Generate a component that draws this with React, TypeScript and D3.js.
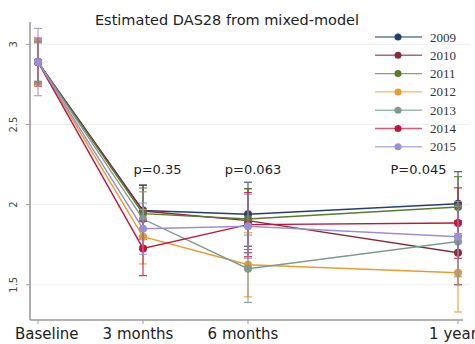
import * as d3 from 'd3';

const months = [0, 3, 6, 12];
const timeLabels = ['Baseline', '3 months', '6 months', '1 year'];
const years = ['2009', '2010', '2011', '2012', '2013', '2014', '2015'];
const colors = ['#25406f', '#862b3c', '#5a7b2c', '#e89c2a', '#7e9a8e', '#c1163b', '#9990d4'];

// estimated DAS28 per year cohort
const das2009 = [2.89, 1.963, 1.94, 2.006];
const das2010 = [2.89, 1.96, 1.90, 1.70];
const das2011 = [2.89, 1.944, 1.91, 1.985];
const das2012 = [2.89, 1.80, 1.625, 1.575];
const das2013 = [2.89, 1.91, 1.60, 1.77];
const das2014 = [2.89, 1.727, 1.875, 1.885];
const das2015 = [2.89, 1.85, 1.865, 1.80];
const series = [das2009, das2010, das2011, das2012, das2013, das2014, das2015];

// CI half widths
const ci2009 = [0.13, 0.16, 0.2, 0.2];
const ci2010 = [0.14, 0.16, 0.2, 0.2];
const ci2011 = [0.12, 0.16, 0.19, 0.19];
const ci2012 = [0.14, 0.17, 0.2, 0.245];
const ci2013 = [0.13, 0.17, 0.21, 0.22];
const ci2014 = [0.15, 0.17, 0.2, 0.22];
const ci2015 = [0.21, 0.16, 0.2, 0.22];
const cis = [ci2009, ci2010, ci2011, ci2012, ci2013, ci2014, ci2015];

const pLabels = ['p=0.35', 'p=0.063', 'P=0.045'];
const yTicks = [1.5, 2, 2.5, 3];

export default function App() {
  const width = 475;
  const height = 344;
  const x = d3.scaleLinear().domain([0, 12]).range([38, 458]);
  const y = d3.scaleLinear().domain([1.28, 3.14]).range([320, 22]);
  const line = d3.line<number>().x((d, i) => x(months[i])).y((d) => y(d));
  const sans = 'DejaVu Sans, sans-serif';

  return (
    <svg width={width} height={height} style={{ position: 'absolute', left: 0, top: 0, background: '#fff' }}>
      {/* grid */}
      {yTicks.map((t) => (
        <line key={'g' + t} x1={31} x2={470} y1={y(t)} y2={y(t)} stroke="#eef1f1" strokeWidth={1} />
      ))}
      {/* axes */}
      <line x1={30} x2={30} y1={22} y2={320} stroke="#9a9a9a" strokeWidth={1.6} />
      <line x1={30} x2={463} y1={320} y2={320} stroke="#9a9a9a" strokeWidth={1.6} />
      {yTicks.map((t) => (
        <g key={'t' + t}>
          <line x1={26} x2={30} y1={y(t)} y2={y(t)} stroke="#9a9a9a" />
          <text transform={`translate(17,${y(t)}) rotate(-90)`} textAnchor="middle" fontFamily={sans} fontSize={10} fill="#444">
            {t}
          </text>
        </g>
      ))}
      {months.map((m, i) => (
        <g key={'x' + m}>
          <line x1={x(m)} x2={x(m)} y1={320} y2={324} stroke="#9a9a9a" />
          <text
            x={i === 0 ? 15 : x(m) - 5}
            y={339}
            textAnchor={i === 0 ? 'start' : 'middle'}
            fontFamily={sans}
            fontSize={15}
            fill="#222"
          >
            {timeLabels[i]}
          </text>
        </g>
      ))}
      {/* title */}
      <text x={227} y={25} textAnchor="middle" fontFamily={sans} fontSize={14.5} fill="#222">
        Estimated DAS28 from mixed-model
      </text>
      {/* series */}
      {series.map((s, si) => (
        <g key={years[si]}>
          {s.map((v, i) => {
            const lo = y(v - cis[si][i]);
            const hi = y(v + cis[si][i]);
            const cx = x(months[i]);
            return (
              <g key={i} stroke={colors[si]} strokeWidth={1.2} opacity={0.85}>
                <line x1={cx} x2={cx} y1={lo} y2={hi} />
                <line x1={cx - 4} x2={cx + 4} y1={lo} y2={lo} />
                <line x1={cx - 4} x2={cx + 4} y1={hi} y2={hi} />
              </g>
            );
          })}
          <path d={line(s) || ''} fill="none" stroke={colors[si]} strokeWidth={1.4} />
          {s.map((v, i) => (
            <circle key={'c' + i} cx={x(months[i])} cy={y(v)} r={4} fill={colors[si]} />
          ))}
        </g>
      ))}
      {/* p values */}
      <text x={157.5} y={174} textAnchor="middle" fontFamily={sans} fontSize={13} fill="#222">{pLabels[0]}</text>
      <text x={253} y={174} textAnchor="middle" fontFamily={sans} fontSize={13} fill="#222">{pLabels[1]}</text>
      <text x={418.5} y={174} textAnchor="middle" fontFamily={sans} fontSize={13} fill="#222">{pLabels[2]}</text>
      {/* legend */}
      {years.map((yr, i) => {
        const ly = 37 + i * 18.3;
        return (
          <g key={'l' + yr}>
            <line x1={375} x2={422} y1={ly} y2={ly} stroke={colors[i]} strokeWidth={1.4} opacity={0.7} />
            <circle cx={398} cy={ly} r={3.5} fill={colors[i]} />
            <text x={430} y={ly + 4.5} fontFamily="Liberation Serif, serif" fontSize={13} fill="#333">
              {yr}
            </text>
          </g>
        );
      })}
    </svg>
  );
}
